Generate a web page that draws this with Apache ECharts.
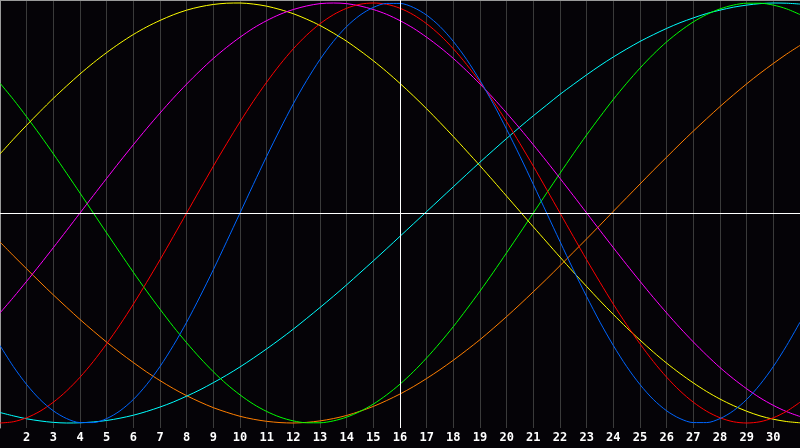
<!DOCTYPE html>
<html>
<head>
<meta charset="utf-8">
<script src="https://cdn.jsdelivr.net/npm/echarts@6/dist/echarts.min.js"></script>
<style>
html,body{margin:0;padding:0;background:#050307;}
#c{width:800px;height:448px;}
</style>
</head>
<body>
<div id="c"></div>
<script>
var days = [1,1.5,2,2.5,3,3.5,4,4.5,5,5.5,6,6.5,7,7.5,8,8.5,9,9.5,10,10.5,11,11.5,12,12.5,13,13.5,14,14.5,15,15.5,16,16.5,17,17.5,18,18.5,19,19.5,20,20.5,21,21.5,22,22.5,23,23.5,24,24.5,25,25.5,26,26.5,27,27.5,28,28.5,29,29.5,30,30.5,31];
var todayDay = 16;

var yellowVals = [0.281,0.351,0.418,0.483,0.546,0.605,0.662,0.715,0.764,0.809,0.850,0.886,0.917,0.944,0.966,0.982,0.993,0.999,1.000,0.995,0.985,0.969,0.949,0.923,0.893,0.857,0.818,0.773,0.725,0.673,0.617,0.558,0.496,0.431,0.364,0.295,0.225,0.153,0.080,0.007,-0.066,-0.138,-0.210,-0.281,-0.350,-0.418,-0.483,-0.546,-0.605,-0.662,-0.715,-0.764,-0.809,-0.850,-0.886,-0.917,-0.944,-0.966,-0.982,-0.993,-0.999];
var magentaVals = [-0.476,-0.402,-0.325,-0.246,-0.165,-0.083,0,0.083,0.165,0.246,0.325,0.402,0.476,0.547,0.614,0.677,0.736,0.789,0.837,0.880,0.916,0.946,0.969,0.986,0.997,1,0.997,0.986,0.969,0.946,0.916,0.880,0.837,0.789,0.736,0.677,0.614,0.547,0.476,0.402,0.325,0.246,0.165,0.083,0,-0.083,-0.165,-0.246,-0.325,-0.402,-0.476,-0.547,-0.614,-0.677,-0.736,-0.789,-0.837,-0.880,-0.916,-0.946,-0.969];
var redVals = [-1,-0.994,-0.975,-0.944,-0.901,-0.847,-0.782,-0.707,-0.623,-0.532,-0.434,-0.330,-0.223,-0.112,0,0.112,0.223,0.330,0.434,0.532,0.623,0.707,0.782,0.847,0.901,0.944,0.975,0.994,1,0.994,0.975,0.944,0.901,0.847,0.782,0.707,0.623,0.532,0.434,0.330,0.223,0.112,0,-0.112,-0.223,-0.330,-0.434,-0.532,-0.623,-0.707,-0.782,-0.847,-0.901,-0.944,-0.975,-0.994,-1,-0.994,-0.975,-0.944,-0.901];
var blueVals = [-0.631,-0.731,-0.817,-0.888,-0.942,-0.979,-0.998,-0.998,-0.979,-0.942,-0.888,-0.817,-0.731,-0.631,-0.520,-0.398,-0.270,-0.136,0,0.136,0.270,0.398,0.520,0.631,0.731,0.817,0.888,0.942,0.979,0.998,0.998,0.979,0.942,0.888,0.817,0.731,0.631,0.520,0.398,0.270,0.136,0,-0.136,-0.270,-0.398,-0.520,-0.631,-0.731,-0.817,-0.888,-0.942,-0.979,-0.998,-0.998,-0.979,-0.942,-0.888,-0.817,-0.731,-0.631,-0.520];
var greenVals = [0.618,0.541,0.458,0.372,0.282,0.189,0.095,0,-0.095,-0.189,-0.282,-0.372,-0.458,-0.541,-0.618,-0.690,-0.756,-0.815,-0.866,-0.910,-0.945,-0.972,-0.990,-0.999,-0.999,-0.990,-0.972,-0.945,-0.910,-0.866,-0.815,-0.756,-0.690,-0.618,-0.541,-0.458,-0.372,-0.282,-0.189,-0.095,0,0.095,0.189,0.282,0.372,0.458,0.541,0.618,0.690,0.756,0.815,0.866,0.910,0.945,0.972,0.990,0.999,0.999,0.990,0.972,0.945];
var cyanVals = [-0.950,-0.966,-0.980,-0.990,-0.997,-1.000,-0.999,-0.995,-0.988,-0.977,-0.963,-0.945,-0.924,-0.900,-0.872,-0.842,-0.808,-0.772,-0.733,-0.691,-0.647,-0.601,-0.553,-0.502,-0.450,-0.397,-0.342,-0.285,-0.228,-0.170,-0.111,-0.052,0.007,0.066,0.125,0.184,0.242,0.299,0.355,0.410,0.463,0.514,0.565,0.612,0.658,0.702,0.743,0.781,0.817,0.849,0.879,0.906,0.929,0.950,0.966,0.980,0.990,0.997,1.000,0.999,0.995];
var orangeVals = [-0.138,-0.203,-0.266,-0.329,-0.390,-0.449,-0.507,-0.562,-0.615,-0.665,-0.712,-0.757,-0.798,-0.836,-0.870,-0.900,-0.927,-0.949,-0.968,-0.982,-0.992,-0.998,-1.000,-0.997,-0.990,-0.979,-0.964,-0.944,-0.921,-0.893,-0.862,-0.827,-0.788,-0.746,-0.701,-0.653,-0.603,-0.549,-0.493,-0.435,-0.375,-0.314,-0.251,-0.187,-0.123,-0.058,0.008,0.073,0.138,0.203,0.266,0.329,0.390,0.449,0.507,0.562,0.615,0.665,0.712,0.757,0.798];

var seriesDefs = [
  {name:'orange', vals: orangeVals, color:'#ff7f00'},
  {name:'cyan', vals: cyanVals, color:'#00ffff'},
  {name:'green', vals: greenVals, color:'#00ff00'},
  {name:'yellow', vals: yellowVals, color:'#ffff00'},
  {name:'magenta', vals: magentaVals, color:'#ff00ff'},
  {name:'red', vals: redVals, color:'#ff0000'},
  {name:'blue', vals: blueVals, color:'#0066ff'}
];

function pairs(vals){ return days.map(function(d,i){ return [d, vals[i]]; }); }

var series = seriesDefs.map(function(s){
  return {
    type:'line', name:s.name, data: pairs(s.vals), smooth:0.3, showSymbol:false,
    lineStyle:{color:s.color, width:1}, itemStyle:{color:s.color}, z:3
  };
});

series.unshift({
  type:'line', data:[], silent:true, z:2,
  markLine:{
    silent:true, symbol:['none','none'], label:{show:false}, animation:false,
    lineStyle:{color:'#ffffff', width:1, type:'solid'},
    data:[{yAxis:0},{xAxis:todayDay}]
  }
});

var chart = echarts.init(document.getElementById('c'), null, {renderer:'canvas'});
chart.setOption({
  backgroundColor:'#050307',
  animation:false,
  grid:{left:0, right:0, top:0, bottom:20, containLabel:false},
  xAxis:[{
    type:'value', min:1, max:31, interval:1,
    axisLine:{show:true, lineStyle:{color:'#a8a8a8', width:1}},
    axisTick:{show:false},
    splitLine:{show:true, lineStyle:{color:'#3a3a3a', width:1}},
    axisLabel:{show:true, showMinLabel:false, showMaxLabel:false, color:'#ffffff', fontWeight:'bold', fontSize:12, fontFamily:'DejaVu Sans Mono', margin:4}
  },{
    type:'value', min:1, max:31, position:'top',
    axisLine:{show:true, onZero:false, lineStyle:{color:'#9a9a9a', width:1}},
    axisTick:{show:false}, axisLabel:{show:false}, splitLine:{show:false}
  }],
  yAxis:{
    type:'value', min:-1.0238, max:1.0143,
    axisLine:{show:true, onZero:false, lineStyle:{color:'#9a9a9a', width:1}},
    axisTick:{show:false}, axisLabel:{show:false}, splitLine:{show:false}
  },
  series: series
});
</script>
</body>
</html>
